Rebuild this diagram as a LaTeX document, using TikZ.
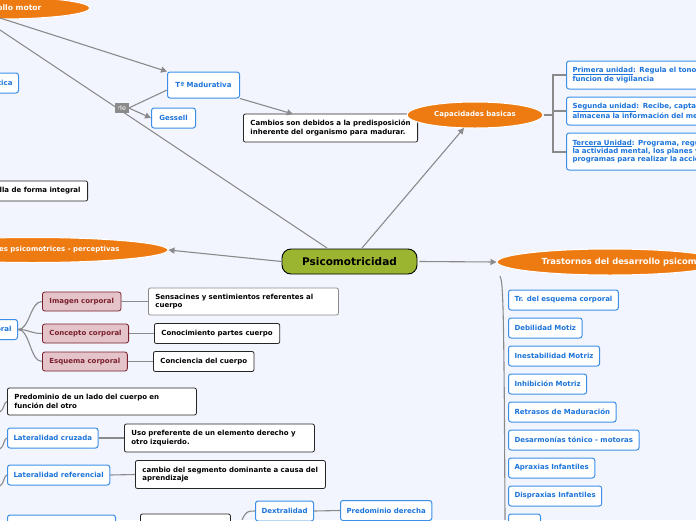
\documentclass[tikz,border=0pt]{standalone}
\usepackage{fontspec}
\setmainfont{DejaVu Sans}
\usetikzlibrary{shapes.geometric,arrows.meta}
\definecolor{bg}{HTML}{F2F5FD}
\definecolor{bl}{HTML}{1C74DB}
\definecolor{blb}{HTML}{3C8FE8}
\definecolor{org}{HTML}{EE7A12}
\definecolor{oli}{HTML}{9BB530}
\definecolor{pk}{HTML}{E5C4C9}
\definecolor{dr}{HTML}{7A1F2E}
\definecolor{ln}{HTML}{8A8A8A}
\begin{document}
\begin{tikzpicture}[x=1pt,y=-1pt,
 every node/.style={font=\fontsize{7}{8.4}\selectfont\bfseries},
 blue/.style={draw=blb,fill=white,text=bl,rounded corners=2.5pt,line width=1pt,inner xsep=6pt,minimum height=20pt,anchor=west},
 blk/.style={draw=black!85,fill=white,text=black,rounded corners=2pt,line width=0.8pt,inner xsep=7pt,minimum height=20pt,anchor=west,align=left},
 pink/.style={draw=dr,fill=pk,text=dr,rounded corners=2.5pt,line width=0.8pt,inner xsep=7pt,minimum height=19pt,anchor=west},
 oval/.style={ellipse,fill=org,draw=white,line width=1pt,text=white,inner sep=0pt},
 otx/.style={text=white},
 con/.style={draw=ln,line width=1.1pt},
 arr/.style={con,-{Triangle[length=6pt,width=6pt]}}]
\useasboundingbox (0,0) rectangle (696,520);
\fill[bg] (0,0) rectangle (696,520);

% top-left
\node[oval,minimum width=180pt,minimum height=22pt] (dm) at (0,8) {};
\node[otx,anchor=east,font=\fontsize{7.6}{9}\selectfont\bfseries] at (45,8) {Desarrollo motor};
\node[blue,anchor=east] (ti) at (19,83) {\hspace*{30pt}Tª Psicoanalítica};
\node[blue,minimum height=26pt,minimum width=72pt] (tm) at (167,85) {Tª Madurativa};
\node[fill=ln,text=white,font=\fontsize{6.5}{7}\selectfont,inner sep=2.5pt] (de) at (122,108) {de};
\node[blue,minimum width=44pt] (ge) at (151,118) {Gessell};
\node[blk,minimum height=28pt] (ca) at (243,128) {Cambios son debidos a la predisposición\\inherente del organismo para madurar.};
\node[blk,anchor=east] (fi) at (88,191) {\hspace*{20pt}Se desarrolla de forma integral};

% center
\node[fill=oli,draw=black,line width=0.9pt,rounded corners=9pt,minimum width=135pt,minimum height=25pt,font=\fontsize{10.5}{12}\selectfont\bfseries] (ps) at (349.5,261.5) {Psicomotricidad};
\node[oval,minimum width=270pt,minimum height=25pt] (cp) at (33,250) {};
\node[otx,anchor=east] at (123,250) {Capacidades psicomotrices - perceptivas};
\node[oval,minimum width=136pt,minimum height=26pt] (cb) at (475,115) {Capacidades basicas};
\node[oval,minimum width=226pt,minimum height=26pt] (tr) at (610,262) {};
\node[otx,anchor=west,font=\fontsize{8.4}{10}\selectfont\bfseries] at (538,262) {Trastornos del desarrollo psicomotor};

\draw[arr] (0,18) -- (tm.north west);
\draw[con] (0,30) -- (327,248);
\draw[con] (tm.west) ++(0,5) -- (de.east);
\draw[arr] (de.east) -- (ge.west);
\draw[arr] (tm.south east) -- (293,114);
\draw[arr] (ps.west) -- (cp.east);
\draw[arr] (362,248) -- (464,128);
\draw[arr] (ps.east) ++(2,0) -- (tr.west);

% capacidades basicas branches
\node[blue,minimum height=28pt,text width=180pt,align=left] (p1) at (566,75) {\underline{Primera unidad}: Regula el tono y la\\funcion de vigilancia};
\node[blue,minimum height=28pt,text width=180pt,align=left] (p2) at (566,111) {\underline{Segunda unidad}: Recibe, capta, procesa y\\almacena la información del medio};
\node[blue,minimum height=37pt,text width=180pt,align=left] (p3) at (566,151.5) {\underline{Tercera Unidad}: Programa, regula y verifica\\la actividad mental, los planes y\\programas para realizar la acción};
\draw[con] (cb.east) -- (553,115);
\draw[con] (566,75) -- (553,75) -- (553,152) -- (566,152);
\draw[con] (553,111) -- (566,111);

% trastornos list
\draw[con] (500,276) .. controls (503,282) and (504,300) .. (505,520);
\foreach \t/\y in {Tr. del esquema corporal/300, Debilidad Motiz/328, Inestabilidad Motriz/356, Inhibición Motriz/384, Retrasos de Maduración/412, Desarmonías tónico - motoras/440, Apraxias Infantiles/468, Dispraxias Infantiles/496}
  \node[blue] at (508,\y) {\t};
\node[blue,minimum width=32pt] (last) at (508,524) {};

% left lower
\node[blue,anchor=east] (ec) at (18,329.5) {\hspace*{30pt}Imagen corporal};
\node[pink] (ic) at (42,301.5) {Imagen corporal};
\node[pink] (cc) at (42,333.5) {Concepto corporal};
\node[pink] (esc) at (42,361.5) {Esquema corporal};
\foreach \n in {ic,cc,esc} \draw[con] (ec.east) .. controls (30,329.5) and (30,0 |- \n.west) .. (\n.west);
\node[blk,draw=ln,text width=176pt,minimum height=27pt] (se) at (148,301.5) {Sensacines y sentimientos referentes al\\cuerpo};
\node[blk] (co) at (154,333.5) {Conocimiento partes cuerpo};
\node[blk] (ci) at (153,361.5) {Conciencia del cuerpo};
\draw[con] (ic.east) -- (se.west);
\draw[con] (cc.east) -- (co.west);
\draw[con] (esc.east) -- (ci.west);

\node[blk,text width=175pt,minimum height=27pt] (pl) at (7,401.5) {Predominio de un lado del cuerpo en\\función del otro};
\node[blue] (lc) at (7,438) {Lateralidad cruzada};
\node[blk,text width=176pt,minimum height=28pt] (up) at (124,438) {Uso preferente de un elemento derecho y\\otro izquierdo.};
\node[blue] (lr) at (7,475) {Lateralidad referencial};
\node[blk,text width=176pt,minimum height=28pt] (cs) at (135,474.5) {cambio del segmento dominante a causa del\\aprendizaje};
\draw[con] (lc.east) -- (up.west);
\draw[con] (lr.east) -- (cs.west);
\draw[con] (0,412) .. controls (4,410) and (4,401.5) .. (pl.west);
\draw[con] (0,449) .. controls (4,447) and (4,438) .. (lc.west);
\draw[con] (0,486) .. controls (4,484) and (4,475) .. (lr.west);

\node[blue,minimum width=108pt] (bb) at (7,525) {};
\node[blk,minimum width=90pt] (bk) at (140,524) {};
\node[blue] (dx) at (255,511) {Dextralidad};
\node[blue] (pd) at (340,510.5) {Predominio derecha};
\draw[con] (242,520) .. controls (246,511) and (248,511) .. (dx.west);
\draw[con] (dx.east) -- (pd.west);
\end{tikzpicture}
\end{document}
